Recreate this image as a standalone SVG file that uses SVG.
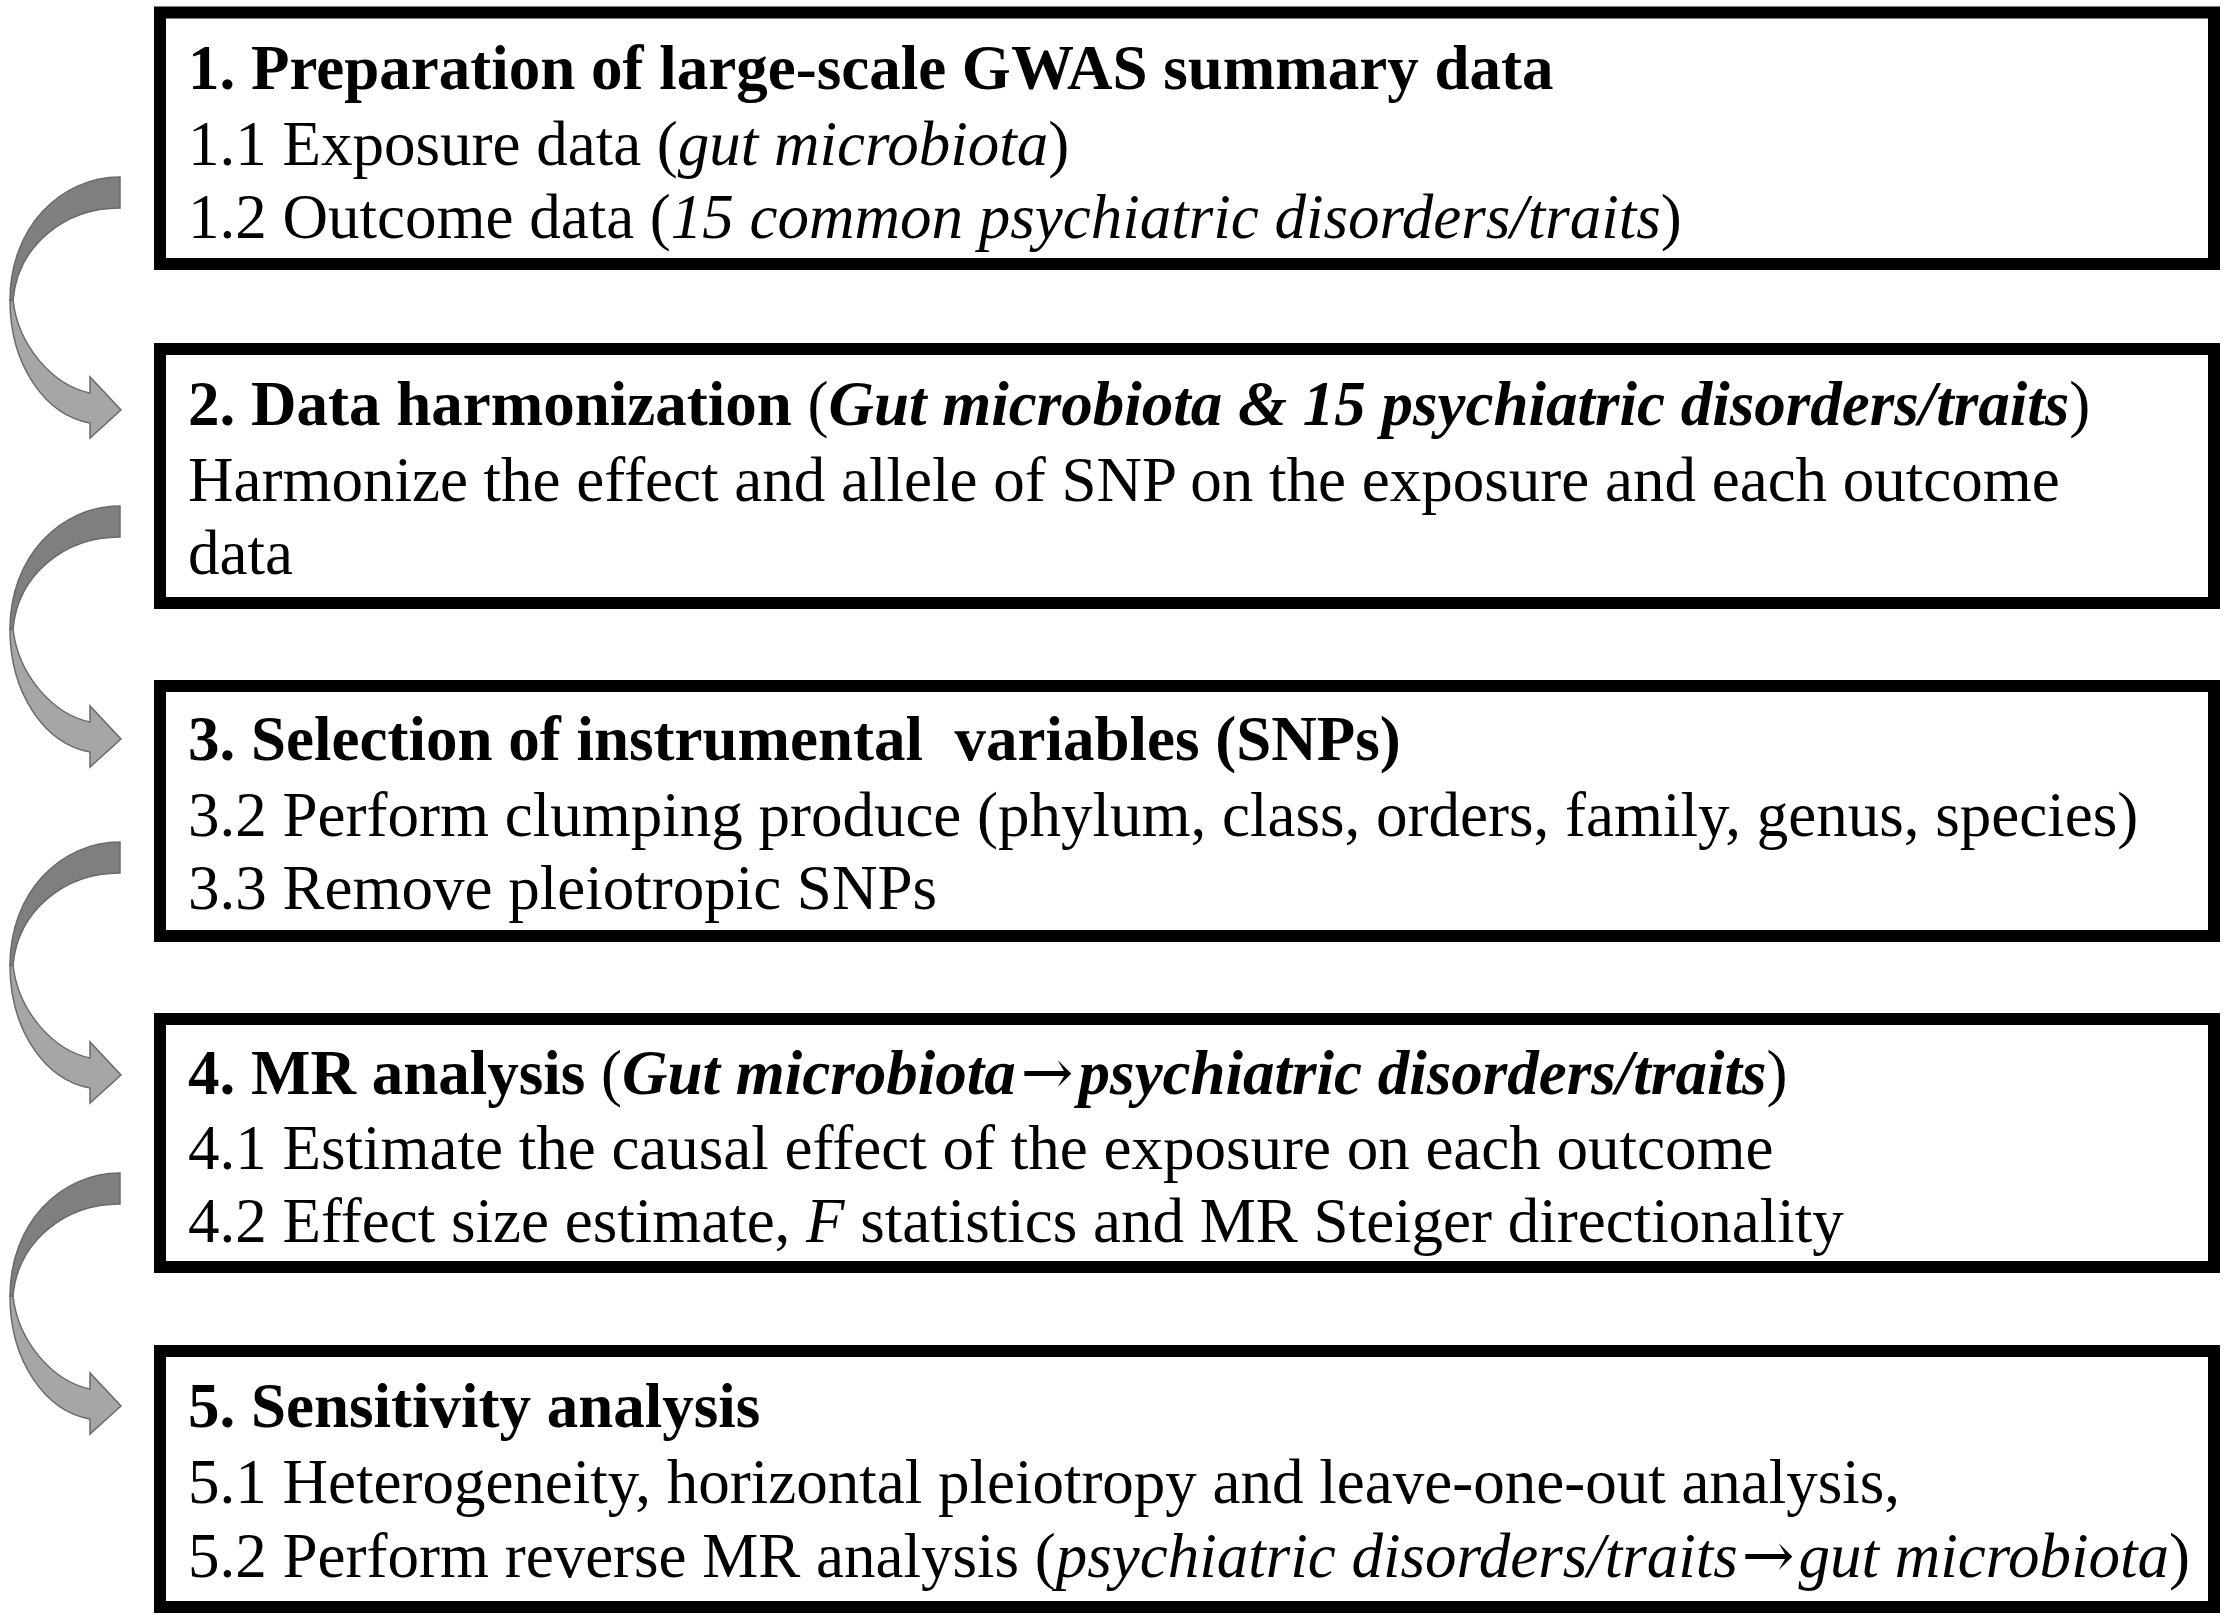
<svg xmlns="http://www.w3.org/2000/svg" xmlns:xlink="http://www.w3.org/1999/xlink" width="2231" height="1624" viewBox="0 0 2231 1624">
<style>
.box{fill:#fff;stroke:#000;stroke-width:12}
text{font-family:"Liberation Serif","Times New Roman",serif;font-size:63px;fill:#000;white-space:pre}
.b{font-weight:bold}
.i{font-style:italic}
.n{font-weight:normal}
.ar{font-family:"DejaVu Serif",serif;font-style:normal;font-weight:normal}
.dark{fill:#7f7f7f;stroke:#6a6a6a;stroke-width:1.5}
.light{fill:#a6a6a6;stroke:#6a6a6a;stroke-width:1.5}
</style>
<defs>
<g id="curved">
<path class="light" d="M10,300 C10,365 45,415 90,423 L90,438 L121,410 L90,377 L90,393 C52,385 18,345 13,300 Z"/>
<path class="dark" d="M120,177 C60,177 10,228 10,300 L13,300 C18,245 65,208 120,208 Z"/>
</g>
</defs>
<rect width="2231" height="1624" fill="#fff"/>
<g id="connectors">
<use xlink:href="#curved" transform="translate(0,0)"/>
<use xlink:href="#curved" transform="translate(0,329)"/>
<use xlink:href="#curved" transform="translate(0,665)"/>
<use xlink:href="#curved" transform="translate(0,996)"/>
</g>
<g id="node1">
<rect class="box" x="160" y="12.5" width="2054" height="251.5"/>
<text x="188" y="89" class="b">1. Preparation of large-scale GWAS summary data</text>
<text x="188" y="165">1.1 Exposure data (<tspan class="i">gut microbiota</tspan>)</text>
<text x="188" y="238">1.2 Outcome data (<tspan class="i">15 common psychiatric disorders/traits</tspan>)</text>
</g>
<g id="node2">
<rect class="box" x="160" y="349" width="2054" height="254"/>
<text x="188" y="425" class="b">2. Data harmonization <tspan class="n">(</tspan><tspan class="i">Gut microbiota &amp; 15 psychiatric disorders/traits</tspan><tspan class="n">)</tspan></text>
<text x="188" y="501">Harmonize the effect and allele of SNP on the exposure and each outcome</text>
<text x="188" y="574">data</text>
</g>
<g id="node3">
<rect class="box" x="160" y="686" width="2054" height="250"/>
<text x="188" y="760" class="b">3. Selection of instrumental  variables (SNPs)</text>
<text x="188" y="836">3.2 Perform clumping produce (phylum, class, orders, family, genus, species)</text>
<text x="188" y="909">3.3 Remove pleiotropic SNPs</text>
</g>
<g id="node4">
<rect class="box" x="160" y="1019" width="2054" height="248"/>
<text x="188" y="1094" class="b">4. MR analysis <tspan class="n">(</tspan><tspan class="i">Gut microbiota<tspan class="ar" dx="5">→</tspan><tspan dx="5">psychiatric disorders/traits</tspan></tspan><tspan class="n">)</tspan></text>
<text x="188" y="1169">4.1 Estimate the causal effect of the exposure on each outcome</text>
<text x="188" y="1242">4.2 Effect size estimate, <tspan class="i">F</tspan> statistics and MR Steiger directionality</text>
</g>
<g id="node5">
<rect class="box" x="160" y="1351" width="2054" height="256"/>
<text x="188" y="1427" class="b">5. Sensitivity analysis</text>
<text x="188" y="1503">5.1 Heterogeneity, horizontal pleiotropy and leave-one-out analysis,</text>
<text x="188" y="1577">5.2 Perform reverse MR analysis (<tspan class="i">psychiatric disorders/traits<tspan class="ar" dx="4">→</tspan><tspan dx="4">gut microbiota</tspan></tspan>)</text>
</g>
</svg>
